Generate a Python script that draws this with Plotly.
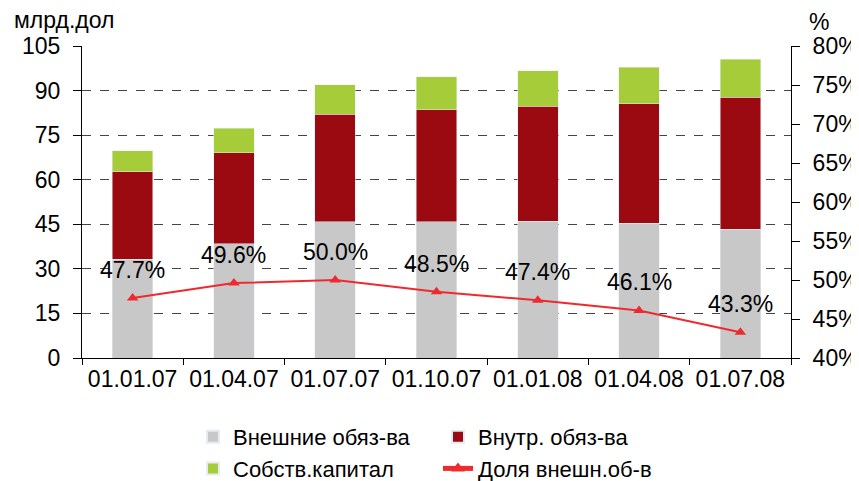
import plotly.graph_objects as go

dates = ["01.01.07", "01.04.07", "01.07.07", "01.10.07", "01.01.08", "01.04.08", "01.07.08"]
external = [33.3, 38.4, 45.8, 45.8, 46.1, 45.4, 43.4]
internal = [29.3, 30.6, 36.3, 37.7, 38.7, 40.1, 44.4]
equity = [7.1, 8.4, 9.8, 11.1, 11.8, 12.4, 12.8]
share = [0.477, 0.496, 0.500, 0.485, 0.474, 0.461, 0.433]
share_labels = ["47.7%", "49.6%", "50.0%", "48.5%", "47.4%", "46.1%", "43.3%"]

FONT = "Liberation Sans, Arial, sans-serif"
W, H = 851, 473  # page body adds an 8px offset

fig = go.Figure()
fig.add_trace(go.Bar(x=dates, y=external, name="Внешние обяз-ва", marker_color="#c8c8c8"))
fig.add_trace(go.Bar(x=dates, y=internal, name="Внутр. обяз-ва", marker_color="#9b0a10"))
fig.add_trace(go.Bar(x=dates, y=equity, name="Собств.капитал", marker_color="#a6cd39"))
fig.add_trace(go.Scatter(x=dates, y=share, name="Доля внешн.об-в", yaxis="y2",
                         mode="lines+markers", line=dict(color="#ee2a2f", width=2),
                         marker=dict(symbol="triangle-up", size=10, color="#ee2a2f")))

for d, s, t in zip(dates, share, share_labels):
    fig.add_annotation(x=d, y=s, yref="y2", text=t, showarrow=False, yshift=28,
                       font=dict(size=23, color="#000", family=FONT))

fig.add_annotation(x=0, xref="paper", xanchor="left", xshift=-70, y=1, yref="paper",
                   yanchor="bottom", yshift=11, text="млрд.дол", showarrow=False,
                   font=dict(size=23, color="#000", family=FONT))
fig.add_annotation(x=1, xref="paper", xanchor="left", xshift=16, y=1, yref="paper",
                   yanchor="bottom", yshift=9, text="%", showarrow=False,
                   font=dict(size=23, color="#000", family=FONT))

fig.update_layout(
    width=W, height=H,
    margin=dict(l=74, r=68, t=38, b=123),
    barmode="stack", bargap=0.6,
    plot_bgcolor="white", paper_bgcolor="white",
    font=dict(family=FONT, size=23, color="#000"),
    xaxis=dict(showline=True, linecolor="#000", linewidth=1, ticks="outside",
               tickson="boundaries", ticklen=6, tickcolor="#000", showgrid=False,
               automargin=False),
    yaxis=dict(range=[0, 105], tickvals=[0, 15, 30, 45, 60, 75, 90, 105],
               showline=True, linecolor="#000", ticks="outside", ticklen=8,
               tickcolor="#000", showgrid=True, gridcolor="#444", griddash="dash",
               gridwidth=1, zeroline=False, automargin=False, ticklabelstandoff=8),
    yaxis2=dict(range=[0.4, 0.8], overlaying="y", side="right",
                tickvals=[0.4, 0.45, 0.5, 0.55, 0.6, 0.65, 0.7, 0.75, 0.8],
                tickformat=".0%", showline=True, linecolor="#000", ticks="outside",
                ticklen=8, tickcolor="#000", showgrid=False, zeroline=False,
                automargin=False, ticklabelstandoff=8),
    legend=dict(orientation="h", xref="container", yref="container",
                x=185 / W, xanchor="left", y=1 - 408 / H, yanchor="top",
                entrywidth=200, font=dict(size=22, family=FONT), traceorder="normal",
                itemsizing="constant", tracegroupgap=0),
    showlegend=True,
)

fig.write_html("out.html")
